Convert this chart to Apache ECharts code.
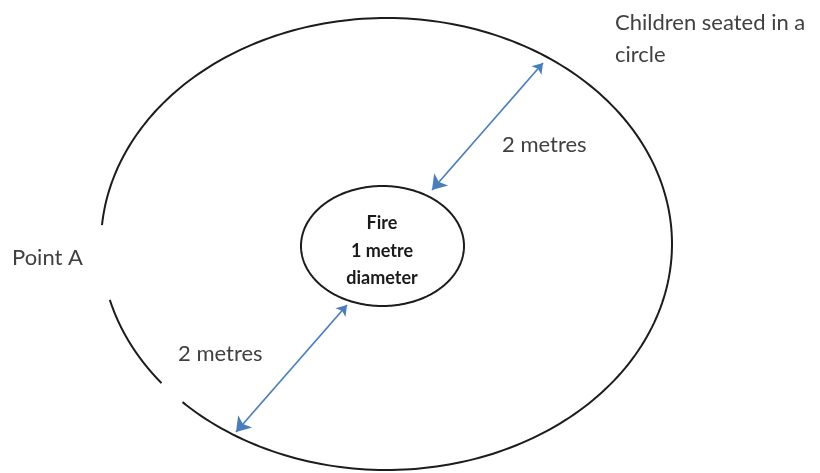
<!DOCTYPE html>
<html>
<head>
<meta charset="utf-8">
<script src="https://cdn.jsdelivr.net/npm/echarts@6/dist/echarts.min.js"></script>
<style>html,body{margin:0;padding:0;background:#fff}#main{width:820px;height:473px}</style>
</head>
<body>
<div id="main"></div>
<script>
// Diagram geometry (in picture units, y downward)
const ellipseNames = ['Children seated in a circle', 'Fire'];
const ellipseCx = [386.5, 382.5];
const ellipseCy = [244, 246];
const ellipseRx = [285.5, 81.5];
const ellipseRy = [226, 60];
// Visible arcs of each ellipse, as parameter angle ranges in degrees
const ellipseArcs = [
  [[184.8, 495.6], [142, 165.7]],
  [[0, 360]]
];
// Measurement arrows (start and end points)
const arrowStart = [[543, 63], [347, 305]];
const arrowEnd = [[432, 190], [236, 432]];
const arrowLabels = ['2 metres', '2 metres'];
// Text labels
const labelTexts = ['Children seated in a', 'circle', 'Point A', '2 metres', '2 metres', 'Fire', '1 metre', 'diameter'];
const labelX = [615, 615, 12, 502, 178, 382, 382, 382];
const labelY = [22.5, 55, 258, 145, 353.5, 223, 251, 278];
const labelKind = ['outer', 'outer', 'outer', 'outer', 'outer', 'inner', 'inner', 'inner'];

const chart = echarts.init(document.getElementById('main'), null, {renderer: 'canvas'});

const ellipseData = ellipseNames.map((n, i) => [ellipseCx[i], ellipseCy[i], ellipseRx[i], ellipseRy[i], i]);

const option = {
  backgroundColor: '#ffffff',
  animation: false,
  grid: {left: 0, right: 0, top: 0, bottom: 0},
  xAxis: {type: 'value', min: 0, max: 820, show: false},
  yAxis: {type: 'value', min: 0, max: 473, inverse: true, show: false},
  series: [
    {
      type: 'custom',
      name: 'ellipses',
      data: ellipseData,
      renderItem: function (params, api) {
        const cx = api.value(0), cy = api.value(1), rx = api.value(2), ry = api.value(3);
        const idx = api.value(4);
        const children = ellipseArcs[idx].map(function (arc) {
          const pts = [];
          const n = 240;
          for (let k = 0; k <= n; k++) {
            const t = (arc[0] + (arc[1] - arc[0]) * k / n) * Math.PI / 180;
            pts.push(api.coord([cx + rx * Math.cos(t), cy + ry * Math.sin(t)]));
          }
          return {
            type: 'polyline',
            shape: {points: pts},
            style: {stroke: '#1c1c1c', lineWidth: 2, fill: null}
          };
        });
        return {type: 'group', children: children};
      }
    },
    {
      type: 'lines',
      coordinateSystem: 'cartesian2d',
      symbol: ['arrow', 'arrow'],
      symbolSize: [10, 14],
      lineStyle: {color: '#4a7ebb', width: 1.7, opacity: 1, curveness: 0},
      itemStyle: {color: '#4a7ebb'},
      data: arrowStart.map((s, i) => ({name: arrowLabels[i], coords: [s, arrowEnd[i]]}))
    },
    {
      type: 'custom',
      name: 'labels',
      data: labelTexts.map((t, i) => [labelX[i], labelY[i], i]),
      renderItem: function (params, api) {
        const i = api.value(2);
        const p = api.coord([api.value(0), api.value(1)]);
        const inner = labelKind[i] === 'inner';
        return {
          type: 'text',
          x: p[0], y: p[1],
          style: {
            text: labelTexts[i],
            fill: inner ? '#1a1a1a' : '#404040',
            font: inner ? 'bold 18px Lato' : '22px Lato',
            textAlign: inner ? 'center' : 'left',
            textVerticalAlign: 'middle'
          }
        };
      }
    }
  ]
};
chart.setOption(option);
</script>
</body>
</html>
